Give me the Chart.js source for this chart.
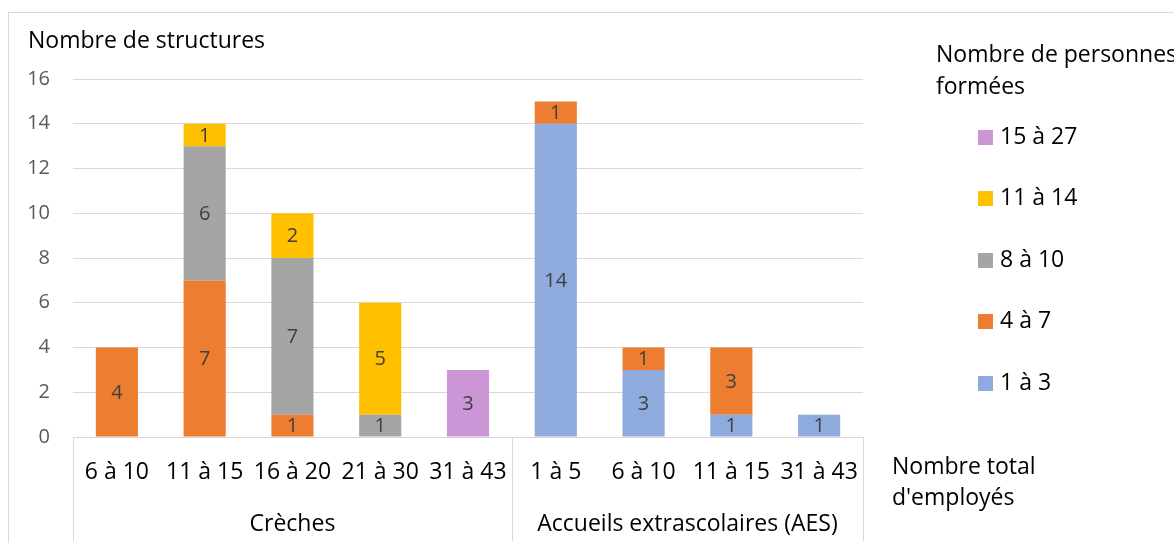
<!DOCTYPE html>
<html lang="fr">
<head>
<meta charset="utf-8">
<title>Nombre de structures selon le nombre de personnes formées</title>
<script src="https://cdn.jsdelivr.net/npm/chart.js@4/dist/chart.umd.min.js"></script>
<style>
  html, body { margin: 0; padding: 0; background: #ffffff; }
  #wrap { position: relative; width: 1174px; height: 543px; }
</style>
</head>
<body>
<div id="wrap"><canvas id="chart"></canvas></div>
<script>
// Catégories : tranche du nombre total d'employés, regroupées par type de structure
const categories = ['6 à 10', '11 à 15', '16 à 20', '21 à 30', '31 à 43', '1 à 5', '6 à 10', '11 à 15', '31 à 43'];
const groups = ['Crèches', 'Accueils extrascolaires (AES)'];
const groupSizes = [5, 4];

// Nombre de structures par tranche de personnes formées
const seriesNames = ['1 à 3', '4 à 7', '8 à 10', '11 à 14', '15 à 27'];
const forme1a3   = [0, 0, 0, 0, 0, 14, 3, 1, 1];
const forme4a7   = [4, 7, 1, 0, 0, 1, 1, 3, 0];
const forme8a10  = [0, 6, 7, 1, 0, 0, 0, 0, 0];
const forme11a14 = [0, 1, 2, 5, 0, 0, 0, 0, 0];
const forme15a27 = [0, 0, 0, 0, 3, 0, 0, 0, 0];

const yTicks = [0, 2, 4, 6, 8, 10, 12, 14, 16];

const seriesColors = ['#8FAADC', '#ED7D31', '#A5A5A5', '#FFC000', '#CC95D5'];
const seriesValues = [forme1a3, forme4a7, forme8a10, forme11a14, forme15a27];

const FONT = "'Open Sans', 'DejaVu Sans', sans-serif";
Chart.defaults.font.family = FONT;

// Fond blanc et cadre du graphique
const frame = {
  id: 'frame',
  beforeDraw(chart) {
    const ctx = chart.ctx;
    ctx.save();
    ctx.fillStyle = '#ffffff';
    ctx.fillRect(0, 0, chart.width, chart.height);
    ctx.strokeStyle = '#D9D9D9';
    ctx.lineWidth = 1;
    ctx.strokeRect(8.5, 12.5, chart.width + 40, chart.height + 40);
    ctx.restore();
  }
};

// Valeurs inscrites au centre de chaque segment
const segmentLabels = {
  id: 'segmentLabels',
  afterDatasetsDraw(chart) {
    const ctx = chart.ctx;
    ctx.save();
    ctx.font = '20px ' + FONT;
    ctx.fillStyle = '#404040';
    ctx.textAlign = 'center';
    ctx.textBaseline = 'middle';
    chart.data.datasets.forEach((ds, di) => {
      const meta = chart.getDatasetMeta(di);
      meta.data.forEach((bar, i) => {
        const v = ds.data[i];
        if (!v) return;
        ctx.fillText(String(v), bar.x, (bar.y + bar.base) / 2 + 1);
      });
    });
    ctx.restore();
  }
};

// Axe à deux niveaux : séparateurs et noms des groupes
const groupAxis = {
  id: 'groupAxis',
  afterDraw(chart) {
    const ctx = chart.ctx;
    const xs = chart.scales.x;
    const top = chart.chartArea.bottom;
    const bounds = [xs.left];
    let idx = 0;
    groupSizes.forEach((n) => {
      idx += n;
      bounds.push(idx < categories.length ? xs.getPixelForValue(idx - 0.5) : xs.right);
    });
    ctx.save();
    ctx.strokeStyle = '#D9D9D9';
    ctx.lineWidth = 1;
    bounds.forEach((bx) => {
      const px = Math.round(bx) + 0.5;
      ctx.beginPath();
      ctx.moveTo(px, top);
      ctx.lineTo(px, chart.height - 2);
      ctx.stroke();
    });
    ctx.font = '23px ' + FONT;
    ctx.fillStyle = '#000000';
    ctx.textAlign = 'center';
    ctx.textBaseline = 'middle';
    groups.forEach((g, k) => {
      ctx.fillText(g, (bounds[k] + bounds[k + 1]) / 2, 524);
    });
    ctx.restore();
  }
};

// Titres des axes et légende
const annotations = {
  id: 'annotations',
  afterDraw(chart) {
    const ctx = chart.ctx;
    ctx.save();
    ctx.font = '23px ' + FONT;
    ctx.fillStyle = '#000000';
    ctx.textAlign = 'left';
    ctx.textBaseline = 'middle';
    ctx.fillText('Nombre de structures', 28, 41);
    ctx.fillText('Nombre total', 892, 467);
    ctx.fillText("d'employés", 892, 498);
    ctx.fillText('Nombre de personnes', 936, 55);
    ctx.fillText('formées', 936, 87);

    const items = chart.data.datasets.map((ds, i) => ({ label: ds.label, color: ds.backgroundColor, i })).reverse();
    items.forEach((it, k) => {
      const cy = 137 + k * 61.5;
      ctx.fillStyle = it.color;
      ctx.fillRect(978, Math.round(cy - 7.5), 15, 15);
      ctx.fillStyle = '#000000';
      ctx.fillText(it.label, 1000, cy);
    });
    ctx.restore();
  }
};

new Chart(document.getElementById('chart'), {
  type: 'bar',
  data: {
    labels: categories,
    datasets: seriesNames.map((name, i) => ({
      label: name,
      data: seriesValues[i],
      backgroundColor: seriesColors[i],
      borderWidth: 0,
      categoryPercentage: 1,
      barPercentage: 0.48
    }))
  },
  options: {
    responsive: true,
    maintainAspectRatio: false,
    animation: false,
    layout: { padding: { left: 0, top: 79, right: 311, bottom: 0 } },
    plugins: {
      legend: { display: false },
      tooltip: { enabled: false }
    },
    scales: {
      x: {
        stacked: true,
        grid: { display: false, drawTicks: false },
        border: { display: true, color: '#D9D9D9', width: 1 },
        ticks: {
          color: '#000000',
          font: { size: 23 },
          padding: 22,
          maxRotation: 0,
          autoSkip: false
        },
        afterFit(scale) { scale.height = 106; }
      },
      y: {
        stacked: true,
        min: 0,
        max: 16,
        afterBuildTicks(scale) { scale.ticks = yTicks.map((v) => ({ value: v })); },
        grid: { color: '#D9D9D9', lineWidth: 1, drawTicks: false },
        border: { display: false },
        ticks: {
          color: '#595959',
          font: { size: 20 },
          padding: 23
        },
        afterFit(scale) { scale.width = 73; }
      }
    }
  },
  plugins: [frame, segmentLabels, groupAxis, annotations]
});
</script>
</body>
</html>
